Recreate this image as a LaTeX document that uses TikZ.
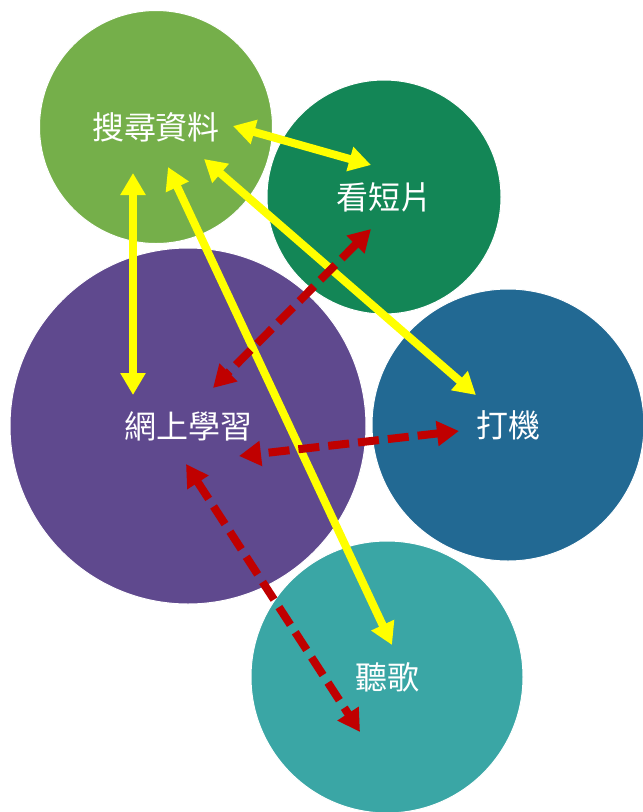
\documentclass[tikz,border=0pt]{standalone}
\usepackage{fontspec}
\setmainfont{Noto Sans CJK TC}
\usetikzlibrary{arrows.meta}
\definecolor{cgreen}{HTML}{75AF4A}
\definecolor{cdgreen}{HTML}{138656}
\definecolor{cpurple}{HTML}{5F498E}
\definecolor{cblue}{HTML}{226993}
\definecolor{cteal}{HTML}{3AA6A5}
\definecolor{cyellow}{HTML}{FFFF00}
\definecolor{cred}{HTML}{C00000}
\tikzset{
  bubble/.style={circle, draw=white, line width=1pt, inner sep=0pt, text=white, font=\fontsize{32}{38}\selectfont},
  ylink/.style={draw=cyellow, line width=8pt, {Triangle[width=24pt,length=22pt]}-{Triangle[width=24pt,length=22pt]}},
  rlink/.style={draw=cred, line width=8pt, dash pattern=on 21pt off 9pt, {Triangle[width=24pt,length=22pt]}-{Triangle[width=24pt,length=22pt]}}
}
\begin{document}
\begin{tikzpicture}[x=1pt,y=-1pt]
\useasboundingbox (0,0) rectangle (643,812);
\node[bubble, fill=cgreen, minimum size=233pt] (search) at (156,127) {搜尋資料};
\node[bubble, fill=cdgreen, minimum size=234pt] (video) at (384,197) {看短片};
\node[bubble, fill=cpurple, minimum size=356pt] (learn) at (188,426) {網上學習};
\node[bubble, fill=cblue, minimum size=272pt] (game) at (508,425) {打機};
\node[bubble, fill=cteal, minimum size=272pt] (music) at (387,677) {聽歌};
% arrow end points
\coordinate (s1) at (233,126); \coordinate (v1) at (371,165);
\coordinate (s2) at (133,173); \coordinate (l2) at (133,395);
\coordinate (s3) at (168,167); \coordinate (m3) at (392,645);
\coordinate (s4) at (204,159); \coordinate (g4) at (476,395);
\coordinate (v5) at (371,229); \coordinate (l5) at (213,388);
\coordinate (g6) at (459,431); \coordinate (l6) at (239,456);
\coordinate (l7) at (186,464); \coordinate (m7) at (360,732);
\draw[ylink] (s1) -- (v1);
\draw[ylink] (s2) -- (l2);
\draw[ylink] (s3) -- (m3);
\draw[ylink] (s4) -- (g4);
\draw[rlink] (v5) -- (l5);
\draw[rlink] (g6) -- (l6);
\draw[rlink] (l7) -- (m7);
\end{tikzpicture}
\end{document}
